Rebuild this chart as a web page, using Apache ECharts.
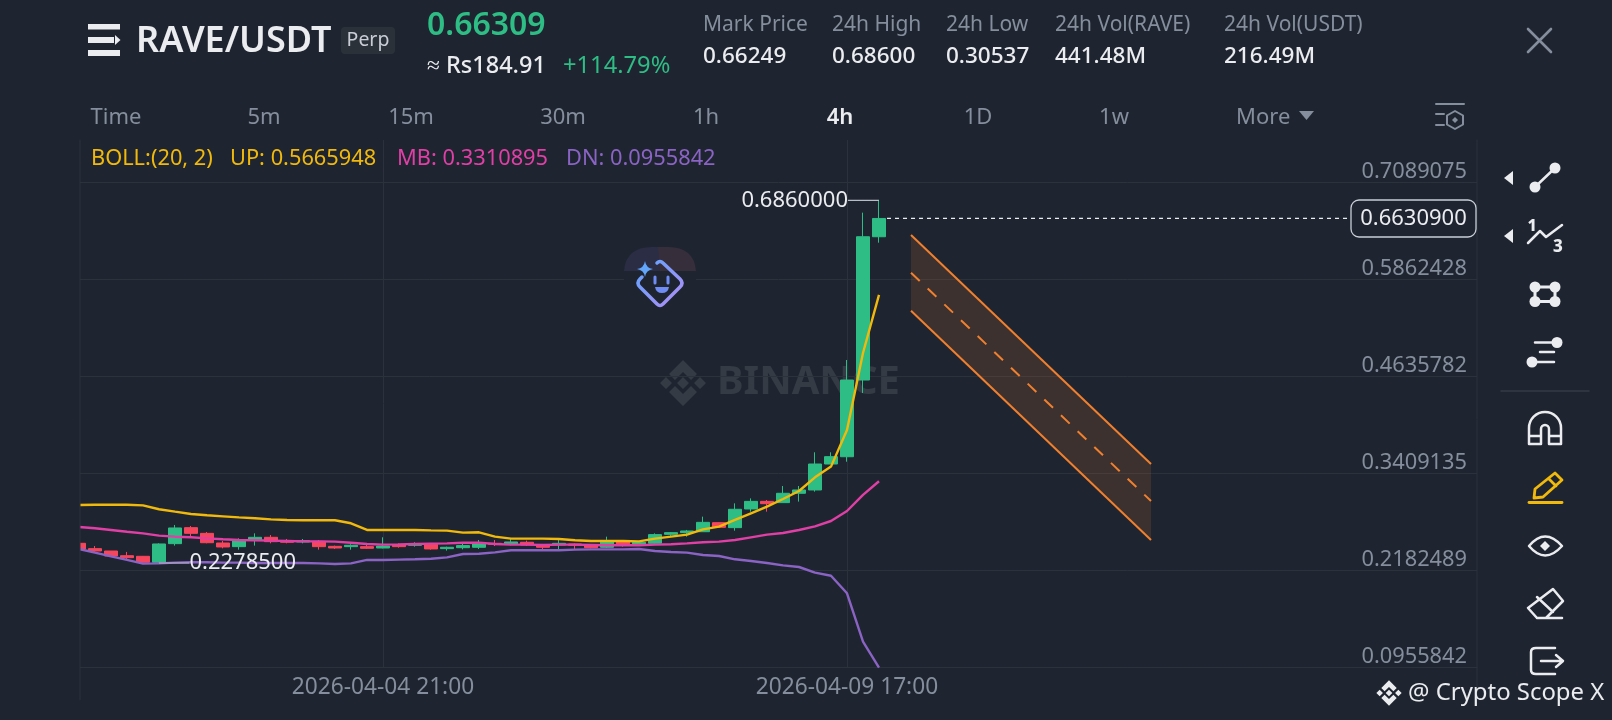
<!DOCTYPE html>
<html><head><meta charset="utf-8">
<script src="https://cdn.jsdelivr.net/npm/echarts@6/dist/echarts.min.js"></script>
<style>html,body{margin:0;padding:0;background:#1f2530;overflow:hidden}#c{width:1612px;height:720px}</style>
</head><body><div id="c"></div>
<script>
const opens=[.2527,.2460,.2430,.2371,.2363,.2287,.2523,.2725,.2653,.2531,.2485,.2565,.2603,.2561,.2544,.2552,.2489,.2485,.2485,.2468,.2510,.2502,.2514,.2460,.2472,.2477,.2527,.2519,.2540,.2502,.2506,.2519,.2502,.2477,.2548,.2519,.2527,.2641,.2662,.2674,.2788,.2725,.2961,.3057,.3041,.3159,.3201,.3529,.3621,.4590,.6400];
const closes=[.2456,.2430,.2367,.2346,.2287,.2519,.2721,.2653,.2535,.2481,.2561,.2603,.2548,.2540,.2561,.2485,.2468,.2502,.2464,.2493,.2485,.2514,.2456,.2477,.2498,.2519,.2514,.2544,.2506,.2477,.2527,.2502,.2472,.2557,.2519,.2540,.2637,.2662,.2683,.2792,.2729,.2957,.3057,.3028,.3159,.3201,.3529,.3622,.4590,.6400,.66309];
const lows=[.2443,.2422,.2359,.2325,.2283,.22785,.2498,.2611,.2527,.2464,.2447,.2498,.2527,.2527,.2527,.2447,.2456,.2447,.2456,.2464,.2472,.2485,.2447,.2435,.2451,.2455,.2493,.2502,.2493,.2443,.2451,.2451,.2464,.2468,.2485,.2510,.2519,.2620,.2611,.2670,.2725,.2687,.2927,.2927,.3041,.3054,.3180,.3529,.3558,.4426,.6325];
const highs=[.2548,.2493,.2430,.2418,.2367,.2527,.2759,.2746,.2670,.2557,.2590,.2653,.2632,.2582,.2582,.2569,.2498,.2514,.2519,.2603,.2527,.2540,.2527,.2485,.2519,.2569,.2569,.2586,.2561,.2519,.2569,.2527,.2515,.2611,.2569,.2557,.2653,.2670,.2696,.2864,.2792,.3032,.3095,.3074,.3251,.3251,.3677,.3677,.4843,.6704,.6860];
const bollUp=[.3011,.3015,.3015,.3015,.3007,.2957,.2927,.2898,.2881,.2868,.2855,.2843,.2830,.2822,.2818,.2818,.2818,.2780,.2696,.2696,.2696,.2696,.2691,.2687,.2662,.2666,.2611,.2586,.2586,.2586,.2582,.2565,.2557,.2557,.2557,.2552,.2586,.2611,.2637,.2704,.2738,.2822,.2906,.2990,.3087,.3188,.3361,.3496,.3959,.4931,.5665948];
const bollMb=[.2733,.2717,.2696,.2674,.2653,.2624,.2611,.2603,.2590,.2578,.2569,.2565,.2561,.2557,.2552,.2552,.2548,.2535,.2519,.2510,.2514,.2519,.2523,.2527,.2535,.2536,.2519,.2510,.2510,.2506,.2510,.2510,.2506,.2502,.2502,.2502,.2510,.2515,.2527,.2540,.2548,.2569,.2603,.2637,.2657,.2695,.2741,.2809,.2935,.3138,.3310895];
const bollDn=[.2455,.2409,.2363,.2317,.2270,.2274,.2283,.2287,.2287,.2283,.2283,.2279,.2279,.2279,.2279,.2274,.2266,.2274,.2317,.2317,.2321,.2325,.2333,.2350,.2392,.2396,.2413,.2439,.2439,.2439,.2439,.2447,.2451,.2451,.2451,.2455,.2430,.2418,.2409,.2380,.2367,.2325,.2304,.2279,.2249,.2228,.2156,.2118,.1896,.1284,.0955842];
const yTicks=[.0955842,.2182489,.3409135,.4635782,.5862428,.7089075];
const xTickIndex=[19,48];
const xTickLabels=['2026-04-04 21:00','2026-04-09 17:00'];
const channelX=[52,67];
const channelTop=[.6422,.3529];
const channelMid=[.5946,.3062];
const channelBot=[.5466,.2569];
const lastPrice=.66309, highValue=.686, lowValue=.22785;
const tabs=['Time','5m','15m','30m','1h','4h','1D','1w'];
const statLabels=['Mark Price','24h High','24h Low','24h Vol(RAVE)','24h Vol(USDT)'];
const statValues=['0.66249','0.68600','0.30537','441.48M','216.49M'];

const F="'Noto Sans'";
const BG='#1f2530',GRID='#2c323c',GREEN='#2ebd85',RED='#f6465d',GREY='#848e9c',WHITE='#eaecef',YEL='#f0b90b',MAG='#e03fa6',PUR='#8a63c4',ORG='#f0802e';
let shapeN=0;
const reg=d=>{const n='svgp'+(shapeN++);echarts.graphic.registerShape(n,echarts.graphic.extendPath(d,{}));return n;};
const t=(x,y,text,size,fill,weight,align,z)=>({type:'text',z:z==null?50:z,silent:true,style:{x,y,text,fill,font:(weight||400)+' '+size+'px '+F,align:align||'left',verticalAlign:'middle'}});
const p=(d,stroke,fill,lw,z)=>({type:reg(d),z:z==null?50:z,silent:true,style:{stroke:stroke||null,fill:fill||null,lineWidth:lw||0,lineCap:'round',lineJoin:'round'}});
const dot=(cx,cy,r,fill)=>({type:'circle',z:50,silent:true,shape:{cx,cy,r},style:{fill}});
const rect=(x,y,w,h,fill,r,z,stroke)=>({type:'rect',z:z==null?50:z,silent:true,shape:{x,y,width:w,height:h,r:r||0},style:{fill,stroke:stroke||null,lineWidth:stroke?1.3:0}});
function bnb(cx,cy,s,fill,z){
 const q=(pts)=>'M'+pts.map(a=>(cx+a[0]*s)+' '+(cy+a[1]*s)).join('L')+'Z';
 const d=[q([[0,-23],[14,-9],[8,-3],[0,-11],[-8,-3],[-14,-9]]),q([[0,23],[14,9],[8,3],[0,11],[-8,3],[-14,9]]),q([[0,-6],[6,0],[0,6],[-6,0]]),q([[-17,-6],[-11,0],[-17,6],[-23,0]]),q([[17,-6],[23,0],[17,6],[11,0]])].join(' ');
 return p(d,null,fill,0,z);
}
const tabX=[116,264,411,563,706,840,978,1114];
const statX=[703,832,946,1055,1224];
const g=[];
g.push(bnb(683,383,1,'#353b45',0));
g.push(t(717,383,'BINANCE',40,'#353b45',700,'left',0));
g.push(rect(624,247,72,56,BG,0,1));
g.push(p('M624 271 Q626 247 652 247 L662 247 L660 271 Z',null,'#2b2d45',0,2));
g.push(p('M696 271 Q694 247 668 247 L658 247 L660 271 Z',null,'#372e3b',0,2));
const gr={type:'linear',x:0,y:0,x2:1,y2:1,colorStops:[{offset:0,color:'#5aa6ff'},{offset:1,color:'#b58cf5'}]};
g.push(p('M657 263 Q660 260 663 263 L680 279 Q684 283 680 287 L663 304 Q660 307 657 304 L640 287 Q636 283 640 279 L642 277',gr,null,3.5,5));
g.push(p('M645 261 Q646 268 653 269 Q646 270 645 277 Q644 270 637 269 Q644 268 645 261Z',null,'#62a6fb',0,6));
g.push(p('M655 277 L655 283 M668 277 L668 283','#6f8cf5',null,3,6));
g.push(p('M655 287 L669 287 Q668 293 662 293 Q656 293 655 287Z',null,'#6f8cf5',0,6));
g.push(rect(88,24,32,5.5,WHITE,0));
g.push(rect(88,37,26,6,WHITE,0));
g.push(rect(88,50,32,6,WHITE,0));
g.push(p('M115 35 L120.5 40 L115 45 Z',null,WHITE,0));
g.push(t(136,42,'RAVE/USDT',36,WHITE,600));
g.push(rect(341,27,54,27,'#2b3139',4));
g.push(t(368,40.5,'Perp',19.5,'#c9ced6',400,'center'));
g.push(t(427,26,'0.66309',32,GREEN,600));
g.push(t(427,66,'≈ Rs184.91',23.5,WHITE,500));
g.push(t(563,66,'+114.79%',23.7,GREEN,400));
statLabels.forEach((s,i)=>{g.push(t(statX[i],25,s,21,GREY));g.push(t(statX[i],57,statValues[i],22.5,WHITE,500));});
g.push(p('M1528 29 L1551 52 M1551 29 L1528 52',GREY,null,2.6));
tabs.forEach((s,i)=>g.push(t(tabX[i],118,s,22,i===5?WHITE:GREY,i===5?600:400,'center')));
g.push(t(1236,118,'More',22,GREY));
g.push(p('M1299 111 L1314 111 L1306.5 120 Z',null,GREY,0));
g.push(p('M1436 104 H1464 M1436 114 H1444 M1436 125 H1444',GREY,null,2));
g.push(p('M1455 111 L1463 115.5 V124.5 L1455 129 L1447 124.5 V115.5 Z',GREY,null,2));
g.push(p('M1455 117 L1458 120 L1455 123 L1452 120 Z',null,GREY,0));
g.push(t(91,159,'BOLL:(20, 2)',21.8,YEL));
g.push(t(230,159,'UP: 0.5665948',21.8,YEL));
g.push(t(397,159,'MB: 0.3310895',21.8,MAG));
g.push(t(566,159,'DN: 0.0955842',21.8,PUR));
g.push(rect(60,140,20,528,BG,0,20));
g.push(p('M80 140 V700 M1477 140 V700',GRID,null,1,21));
g.push(rect(1351,200,125,37,BG,8,40,'#c9ced6'));
g.push(t(1413.5,218.5,'0.6630900',22,WHITE,400,'center'));
const I='#eaecef';
g.push(p('M1504 178 L1513 171 V185 Z',null,I,0));
g.push(p('M1504 236 L1513 229 V243 Z',null,I,0));
g.push(p('M1535 187 L1555 168',I,null,2.5));g.push(dot(1555,168,5.5,I));g.push(dot(1535,187,5.5,I));
g.push(t(1532,226,'1',16,I,800,'center'));g.push(t(1558,247,'3',17,I,800,'center'));
g.push(p('M1528 243 L1540 231 L1546 237 L1562 225',I,null,2.5));
g.push(p('M1535 287 H1555 V301.5 H1535 Z',I,null,3));[[1535,287],[1555,287],[1535,301.5],[1555,301.5]].forEach(a=>g.push(dot(a[0],a[1],5.5,I)));
g.push(p('M1535 342.5 H1555 M1540 352 H1554 M1535 362 H1554',I,null,2.5));g.push(dot(1557,342.5,5.5,I));g.push(dot(1532,362,5.5,I));
g.push(p('M1501 391 H1589','#343b46',null,1.5));
g.push(p('M1529 444 V428 A16 16 0 0 1 1561 428 V444 H1549 V429 A4 4 0 0 0 1541 429 V444 Z M1529 436 H1541 M1549 436 H1561',I,null,2.5));
g.push(p('M1555 473 L1562 480 L1543 497 L1534 498 L1535 489 Z M1549 479 L1556 486',YEL,null,2.8));
g.push(p('M1529 502.5 H1562',YEL,null,2.8));
g.push(p('M1529 546 Q1545 527 1562 546 Q1545 565 1529 546 Z',I,null,2.5));
g.push(p('M1545 541 L1550 546 L1545 551 L1540 546 Z',null,I,0));
g.push(p('M1553 589 L1563 601 L1546 618 L1537 618 L1528 608 Z M1537 597 L1553 612 M1537 618 H1562',I,null,2.5));
g.push(p('M1555 648 H1536 Q1531 648 1531 652 V670 Q1531 674 1536 674 H1555 M1541 661 H1562 M1556 655 L1563 661 L1556 667',I,null,2.5));
g.push(bnb(1389,693,0.55,WHITE,50));
g.push(t(1408,693,'@ Crypto Scope X',23.9,WHITE));

const idx=opens.map((_,i)=>i);
const lineS=(name,arr,color)=>({name,type:'line',data:idx.map(i=>[i,arr[i]]),showSymbol:false,symbol:'none',z:5,silent:true,lineStyle:{color,width:2.4},animation:false});
const chLine=(arr,type)=>({type:'line',data:channelX.map((x,i)=>[x,arr[i]]),symbol:'none',z:4,silent:true,lineStyle:{color:ORG,width:2,type},animation:false});
const lblCommon={show:true,color:WHITE,fontSize:22,fontFamily:'Noto Sans'};
const chart=echarts.init(document.getElementById('c'),null,{renderer:'canvas'});
chart.setOption({
 backgroundColor:BG,animation:false,
 graphic:{elements:g},
 grid:{left:80,right:135,top:140,height:527.7,containLabel:false},
 xAxis:{type:'value',min:0.0625,max:87.375,
  axisLine:{show:true,lineStyle:{color:GRID}},axisTick:{show:false,customValues:xTickIndex},
  splitLine:{show:true,lineStyle:{color:GRID,width:1}},
  axisLabel:{customValues:xTickIndex,color:GREY,fontSize:22.7,fontFamily:'Noto Sans',margin:8,formatter:v=>xTickLabels[xTickIndex.indexOf(v)]||''}},
 yAxis:{type:'value',position:'right',min:yTicks[0],max:.7622,scale:true,
  axisLine:{show:false},axisTick:{show:false,customValues:yTicks},
  splitLine:{show:true,lineStyle:{color:GRID,width:1}},
  axisLabel:{customValues:yTicks,inside:true,color:GREY,fontSize:21.8,fontFamily:'Noto Sans',margin:10,verticalAlign:'bottom',lineHeight:21,formatter:v=>v.toFixed(7)}},
 series:[
  {type:'custom',z:3,silent:true,clip:true,data:[0],renderItem:(params,api)=>{
    const a=api.coord([channelX[0],channelTop[0]]),b=api.coord([channelX[1],channelTop[1]]),c=api.coord([channelX[1],channelBot[1]]),d=api.coord([channelX[0],channelBot[0]]);
    return {type:'polygon',shape:{points:[a,b,c,d]},style:{fill:'rgba(240,128,46,0.14)'}};
  }},
  chLine(channelTop,'solid'),chLine(channelMid,[12,11]),chLine(channelBot,'solid'),
  {type:'candlestick',z:4,silent:true,barWidth:14,clip:true,encode:{x:0,y:[1,2,3,4]},
   data:idx.map(i=>[i,opens[i],closes[i],lows[i],highs[i]]),
   itemStyle:{color:GREEN,color0:RED,borderColor:GREEN,borderColor0:RED,borderWidth:1}},
  lineS('UP',bollUp,YEL),lineS('MB',bollMb,MAG),lineS('DN',bollDn,PUR),
  {type:'line',symbol:'none',z:6,silent:true,lineStyle:{color:WHITE,width:1.2,type:[4,4]},data:[[50.5,lastPrice],[79.4,lastPrice]]},
  {type:'line',symbol:'none',showSymbol:true,z:6,silent:true,lineStyle:{color:'#b7bdc6',width:1.2},
   data:[{value:[48.06,highValue],symbol:'circle',symbolSize:0,label:{...lblCommon,position:'left',distance:0,formatter:()=>highValue.toFixed(7)}},[50,highValue]]},
  {type:'line',symbol:'none',showSymbol:true,z:6,silent:true,lineStyle:{color:'#b7bdc6',width:1.2},
   data:[[5,lowValue],{value:[6.9,lowValue],symbol:'circle',symbolSize:0,label:{...lblCommon,position:'right',distance:0,formatter:()=>lowValue.toFixed(7)}}]}
 ]
});
</script></body></html>
